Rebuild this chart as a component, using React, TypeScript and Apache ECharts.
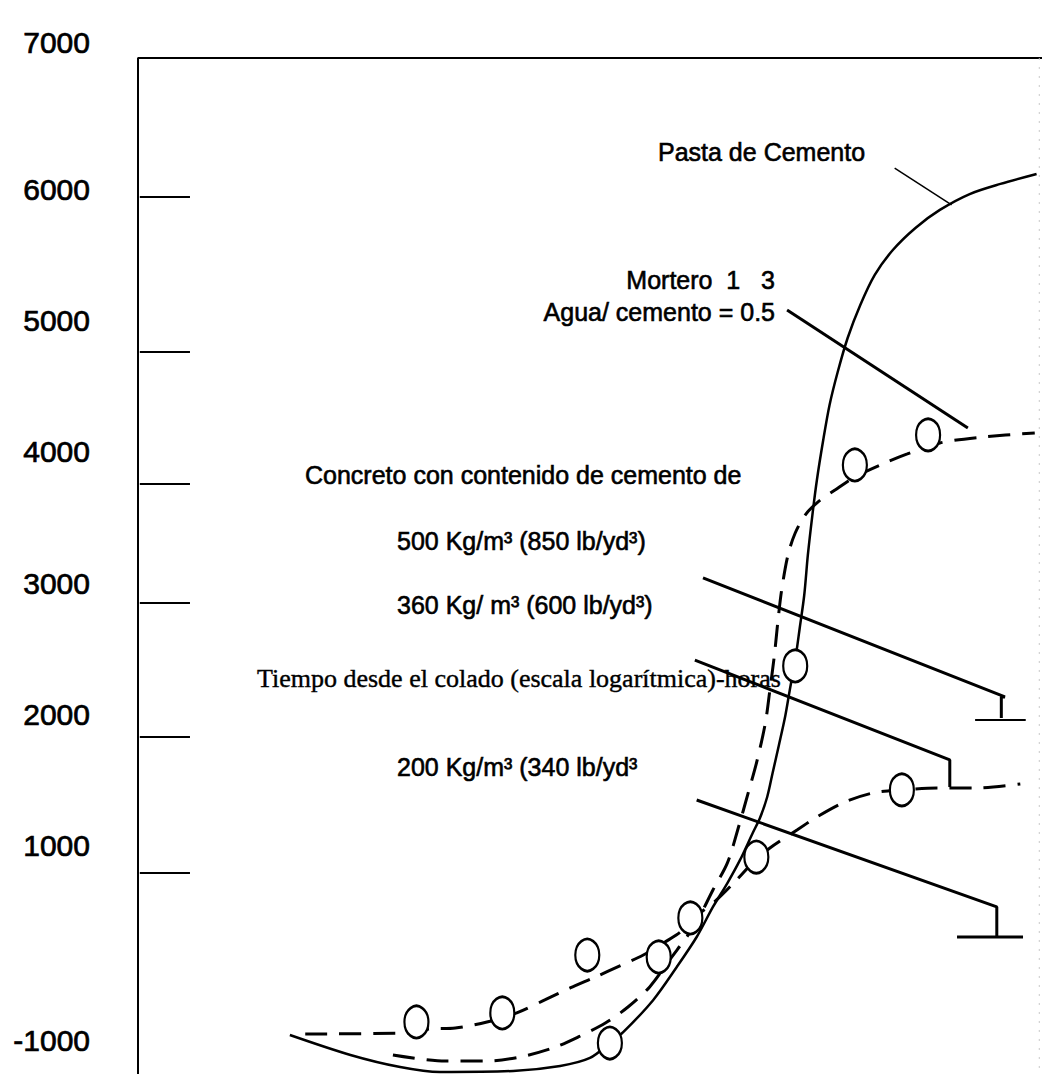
import React, { useEffect, useRef } from "react";
import * as echarts from "echarts";

// Y axis tick labels (text as printed) and the axis values where they sit
const yLabelText = ["7000", "6000", "5000", "4000", "3000", "2000", "1000", "-1000"];
const yLabelAt = [7120, 6000, 5000, 4000, 3000, 2000, 1000, -480];

// short horizontal tick marks inside the frame
const leftTickValues = [5942, 4761, 3756, 2850, 1830, 794];
const leftTickX = [0.2, 5.75];

// Pasta de Cemento (solid)
const pastaCurve: number[][] = [
  [16.8, -439], [23.5, -591], [29.0, -683], [33.4, -721], [41.5, -713], [46.7, -675],
  [50.0, -614], [52.2, -500], [53.7, -416], [57.0, -172], [59.6, 79], [61.8, 307],
  [63.6, 536], [65.2, 718], [66.6, 894], [68.0, 1099], [68.8, 1213], [69.6, 1373],
  [70.2, 1556], [70.9, 1769], [71.6, 1990], [72.1, 2188], [72.7, 2416], [73.2, 2660],
  [73.7, 2911], [74.1, 3216], [74.6, 3520], [75.1, 3787], [75.8, 4091], [76.5, 4358],
  [77.4, 4609], [78.5, 4868], [79.9, 5119], [81.5, 5348], [83.5, 5538], [86.0, 5706],
  [88.7, 5843], [92.0, 5964], [95.4, 6041], [99.4, 6117],
];

// Mortero 1:3 (dashed, upper plateau)
const morteroCurve: number[][] = [
  [28.2, -591], [34.0, -637], [38.6, -637], [42.3, -606], [45.9, -538], [48.7, -454],
  [51.7, -348], [54.2, -226], [56.6, -73], [58.8, 132], [61.6, 399], [63.6, 665],
  [65.2, 871], [66.4, 1137], [67.5, 1404], [68.5, 1655], [69.4, 1937], [69.9, 2188],
  [70.4, 2454], [70.8, 2721], [71.2, 2949], [71.9, 3216], [72.7, 3383], [73.8, 3520],
  [75.2, 3619], [77.1, 3711], [79.3, 3810], [82.1, 3901], [85.1, 3985], [88.7, 4069],
  [93.5, 4114], [99.2, 4145],
];

// Concreto (dashed, lower plateau)
const concretoCurve: number[][] = [
  [18.5, -431], [29.8, -424], [32.3, -393], [35.1, -386], [38.6, -340], [41.9, -271],
  [45.0, -172], [47.8, -81], [50.6, 3], [53.3, 87], [55.9, 170], [58.3, 269],
  [60.0, 345], [62.2, 490], [64.0, 589], [66.0, 726], [68.0, 871], [69.9, 985],
  [72.9, 1122], [75.1, 1221], [78.2, 1335], [81.3, 1404], [84.5, 1427], [88.4, 1442],
  [92.8, 1442], [97.6, 1472],
];

// measured points (open circles)
const measuredPoints: number[][] = [
  [30.8, -340], [40.3, -271], [49.7, 170], [52.2, -500], [57.6, 155], [61.1, 452],
  [68.4, 916], [72.7, 2371], [79.3, 3901], [87.4, 4130], [84.5, 1427],
];

// leader lines
const pastaLeader: number[][] = [[83.7, 6162], [90.0, 5881]];
const morteroLeader: number[][] = [[71.8, 5081], [91.8, 4183]];
const leader500: number[][] = [[62.5, 3041], [95.9, 2135], [95.5, 2135], [95.5, 1975]];
const base500: number[][] = [[92.6, 1960], [98.2, 1960]];
const leader360: number[][] = [[61.6, 2416], [89.8, 1655], [89.8, 1449]];
const leader200: number[][] = [[61.8, 1350], [95.0, 536], [95.0, 307]];
const base200: number[][] = [[90.6, 307], [97.9, 307]];

// frame
const frameTopLeft: number[][] = [[100, 7000], [0, 7000], [0, -736]];
const frameRight: number[][] = [[99.7, 7000], [99.7, -736]];

const annotations = [
  { text: "Pasta de Cemento", x: 658, y: 152, align: "left", serif: false },
  { text: "Mortero  1   3", x: 775, y: 280, align: "right", serif: false },
  { text: "Agua/ cemento = 0.5", x: 775, y: 312, align: "right", serif: false },
  { text: "Concreto con contenido de cemento de", x: 305, y: 475, align: "left", serif: false },
  { text: "500 Kg/m³ (850 lb/yd³)", x: 397, y: 541, align: "left", serif: false },
  { text: "360 Kg/ m³ (600 lb/yd³)", x: 397, y: 605, align: "left", serif: false },
  { text: "Tiempo desde el colado (escala logarítmica)-horas", x: 257, y: 678, align: "left", serif: true },
  { text: "200 Kg/m³ (340 lb/yd³", x: 397, y: 767, align: "left", serif: false },
];

const SANS = "'Liberation Sans', Arial, sans-serif";
const SERIF = "'Liberation Serif', 'Times New Roman', serif";

function lineSeries(data: number[][], width: number, dashed: boolean, smooth: boolean) {
  return {
    type: "line",
    data,
    symbol: "none",
    smooth: smooth ? 0.3 : false,
    clip: false,
    silent: true,
    lineStyle: { color: "#000", width, type: dashed ? [22, 12] : "solid" },
    z: 2,
  };
}

export default function App() {
  const ref = useRef<HTMLDivElement>(null);
  useEffect(() => {
    document.body.style.margin = "0";
    if (!ref.current) return;
    const chart = echarts.init(ref.current, undefined, { renderer: "svg" });
    const series: any[] = [
      lineSeries(frameTopLeft, 2, false, false),
      {
        ...lineSeries(frameRight, 1, false, false),
        lineStyle: { color: "#c8c8c8", width: 1, type: [2, 7] },
      },
      ...leftTickValues.map((v) => lineSeries(leftTickX.map((x) => [x, v]), 2, false, false)),
      lineSeries(pastaCurve, 2.5, false, true),
      lineSeries(morteroCurve, 3, true, true),
      lineSeries(concretoCurve, 3, true, true),
      lineSeries(pastaLeader, 1.5, false, false),
      lineSeries(morteroLeader, 3, false, false),
      lineSeries(leader500, 3, false, false),
      lineSeries(base500, 2, false, false),
      lineSeries(leader360, 3, false, false),
      lineSeries(leader200, 3, false, false),
      lineSeries(base200, 3, false, false),
      {
        type: "scatter",
        data: measuredPoints,
        symbol: "circle",
        symbolSize: [24, 32],
        itemStyle: { color: "#fff", borderColor: "#000", borderWidth: 2.5, opacity: 1 },
        silent: true,
        z: 5,
      },
    ];
    chart.setOption({
      animation: false,
      backgroundColor: "#fff",
      grid: { left: 138, right: 0, top: 30, bottom: 0, containLabel: false, outerBoundsMode: "none" },
      xAxis: {
        type: "value",
        min: 0,
        max: 100,
        show: false,
      },
      yAxis: {
        type: "value",
        min: -736,
        max: 7213,
        axisLine: { show: false },
        axisTick: { show: false },
        splitLine: { show: false },
        axisLabel: {
          customValues: yLabelAt,
          formatter: (v: number) => {
            const i = yLabelAt.indexOf(v);
            return i >= 0 ? yLabelText[i] : "";
          },
          fontSize: 30,
          color: "#000",
          fontFamily: SANS,
          textBorderColor: "#000",
          textBorderWidth: 0.7,
          margin: 48,
        },
      },
      graphic: annotations.map((a) => ({
        type: "text",
        x: a.x,
        y: a.y,
        silent: true,
        z: 1,
        style: {
          text: a.text,
          fill: "#000",
          stroke: "#000",
          lineWidth: a.serif ? 0.4 : 0.6,
          font: `${a.serif ? 26 : 25}px ${a.serif ? SERIF : SANS}`,
          align: a.align,
          verticalAlign: "middle",
        },
      })),
      series,
    });
    return () => chart.dispose();
  }, []);
  return (
    <div
      ref={ref}
      style={{ position: "absolute", left: 0, top: 0, width: 1042, height: 1074, background: "#fff" }}
    />
  );
}
